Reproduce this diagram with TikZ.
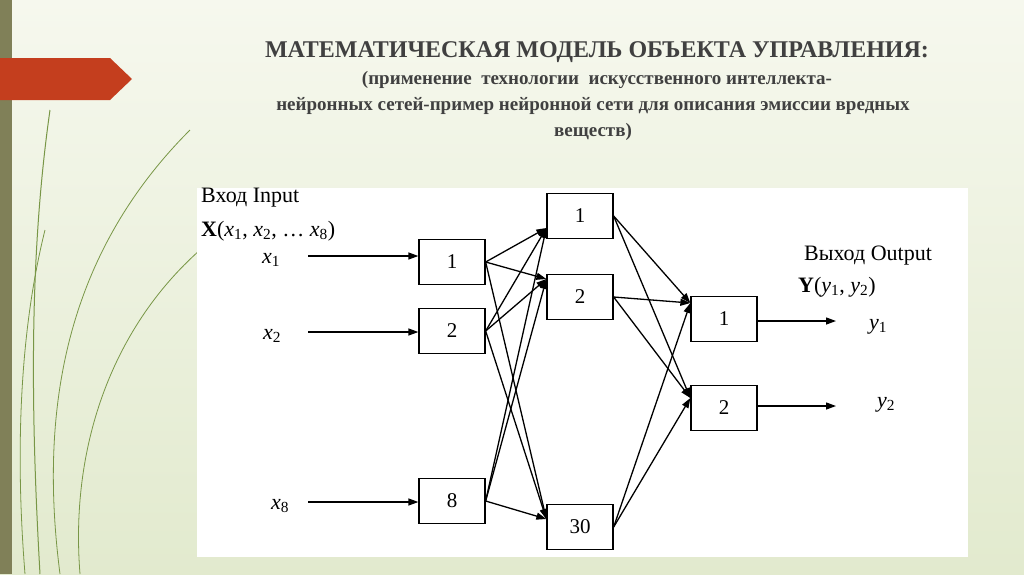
\documentclass[tikz,border=0pt]{standalone}
\usepackage{fontspec}
\setmainfont{Liberation Serif}
\usetikzlibrary{arrows.meta,calc}
\definecolor{bgA}{RGB}{246,248,238}
\definecolor{bgB}{RGB}{226,234,206}
\definecolor{olive}{RGB}{128,128,88}
\definecolor{redarr}{RGB}{196,62,30}
\definecolor{leaf}{RGB}{120,150,70}
\definecolor{titlec}{RGB}{64,64,64}
\newcommand{\vv}[2]{\textit{#1}\textsubscript{#2}}
\begin{document}
\begin{tikzpicture}[x=1pt,y=-1pt,
  nbox/.style={draw,line width=1.3pt,minimum width=66pt,minimum height=45pt,inner sep=0pt,font=\fontsize{21}{21}\selectfont},
  conn/.style={-{Triangle[length=10pt,width=7pt]},line width=1.3pt},
  lbl/.style={font=\fontsize{22}{24}\selectfont,inner sep=0pt},
  ttl/.style={font=\bfseries\fontsize{19}{22}\selectfont,text=titlec,align=center}]
\useasboundingbox (0,0) rectangle (1024,574);
\shade[top color=bgA,bottom color=bgB] (0,0) rectangle (1024,574);
\fill[olive] (0,0) rectangle (12,574);
\fill[redarr] (0,58) -- (110,58) -- (132,79) -- (110,100) -- (0,100) -- cycle;
\draw[leaf,line width=1pt] (40,574) .. controls (30,400) and (30,250) .. (50,110);
\draw[leaf,line width=0.8pt] (60,574) .. controls (40,420) and (60,260) .. (190,130);
\draw[leaf,line width=0.8pt] (80,574) .. controls (70,450) and (110,330) .. (200,250);
\draw[leaf,line width=0.8pt] (25,574) .. controls (15,450) and (20,330) .. (45,230);
\node[ttl,font=\bfseries\fontsize{24}{26}\selectfont] (t1) at (597,52) {МАТЕМАТИЧЕСКАЯ МОДЕЛЬ ОБЪЕКТА УПРАВЛЕНИЯ:};
\node[ttl] (t2) at (597,80) {(применение\ \ технологии\ \ искусственного интеллекта-};
\node[ttl] (t3) at (593,106) {нейронных сетей-пример нейронной сети для описания эмиссии вредных};
\node[ttl] (t4) at (593,132) {веществ)};
\fill[white] (197,188) rectangle (968,557);
\node[nbox] (a1) at (452,262) {1};
\node[nbox] (a2) at (452,331) {2};
\node[nbox] (a8) at (452,501) {8};
\node[nbox] (b1) at (580,216) {1};
\node[nbox] (b2) at (580,297) {2};
\node[nbox] (b30) at (580,527) {30};
\node[nbox] (c1) at (724,319) {1};
\node[nbox] (c2) at (724,408) {2};
\coordinate (i1) at (308,256);
\coordinate (i2) at (308,332);
\coordinate (i8) at (308,502);
\draw[conn] (i1) -- (i1 -| a1.west);
\draw[conn] (i2) -- (i2 -| a2.west);
\draw[conn] (i8) -- (i8 -| a8.west);
\node[lbl] (x1) at (271,260) {\vv{x}{1}};
\node[lbl] (x2) at (272,336) {\vv{x}{2}};
\node[lbl] (x8) at (280,506) {\vv{x}{8}};
\node[lbl,anchor=west] (vin) at (201,198) {Вход Input};
\node[lbl,anchor=west] (X) at (201,231) {\textbf{X}(\vv{x}{1}, \vv{x}{2}, … \vv{x}{8})};
\foreach \s in {a1,a2,a8}{
  \draw[conn] (\s.east) -- ($(b1.west)+(0,12)$);
  \draw[conn] (\s.east) -- ($(b2.west)+(0,-18)$);
  \draw[conn] (\s.east) -- ($(b30.west)+(0,-8)$);
}
\foreach \s in {b1,b2,b30}{
  \draw[conn] (\s.east) -- ($(c1.west)+(0,-16)$);
  \draw[conn] (\s.east) -- ($(c2.west)+(0,-10)$);
}
\coordinate (o1) at (836,321);
\coordinate (o2) at (836,406);
\draw[conn] (c1.east |- o1) -- (o1);
\draw[conn] (c2.east |- o2) -- (o2);
\node[lbl] (y1) at (878,327) {\vv{y}{1}};
\node[lbl] (y2) at (886,405) {\vv{y}{2}};
\node[lbl] (vout) at (868,256) {Выход Output};
\node[lbl,anchor=west] (Y) at (798,287) {\textbf{Y}(\vv{y}{1}, \vv{y}{2})};
\end{tikzpicture}
\end{document}
